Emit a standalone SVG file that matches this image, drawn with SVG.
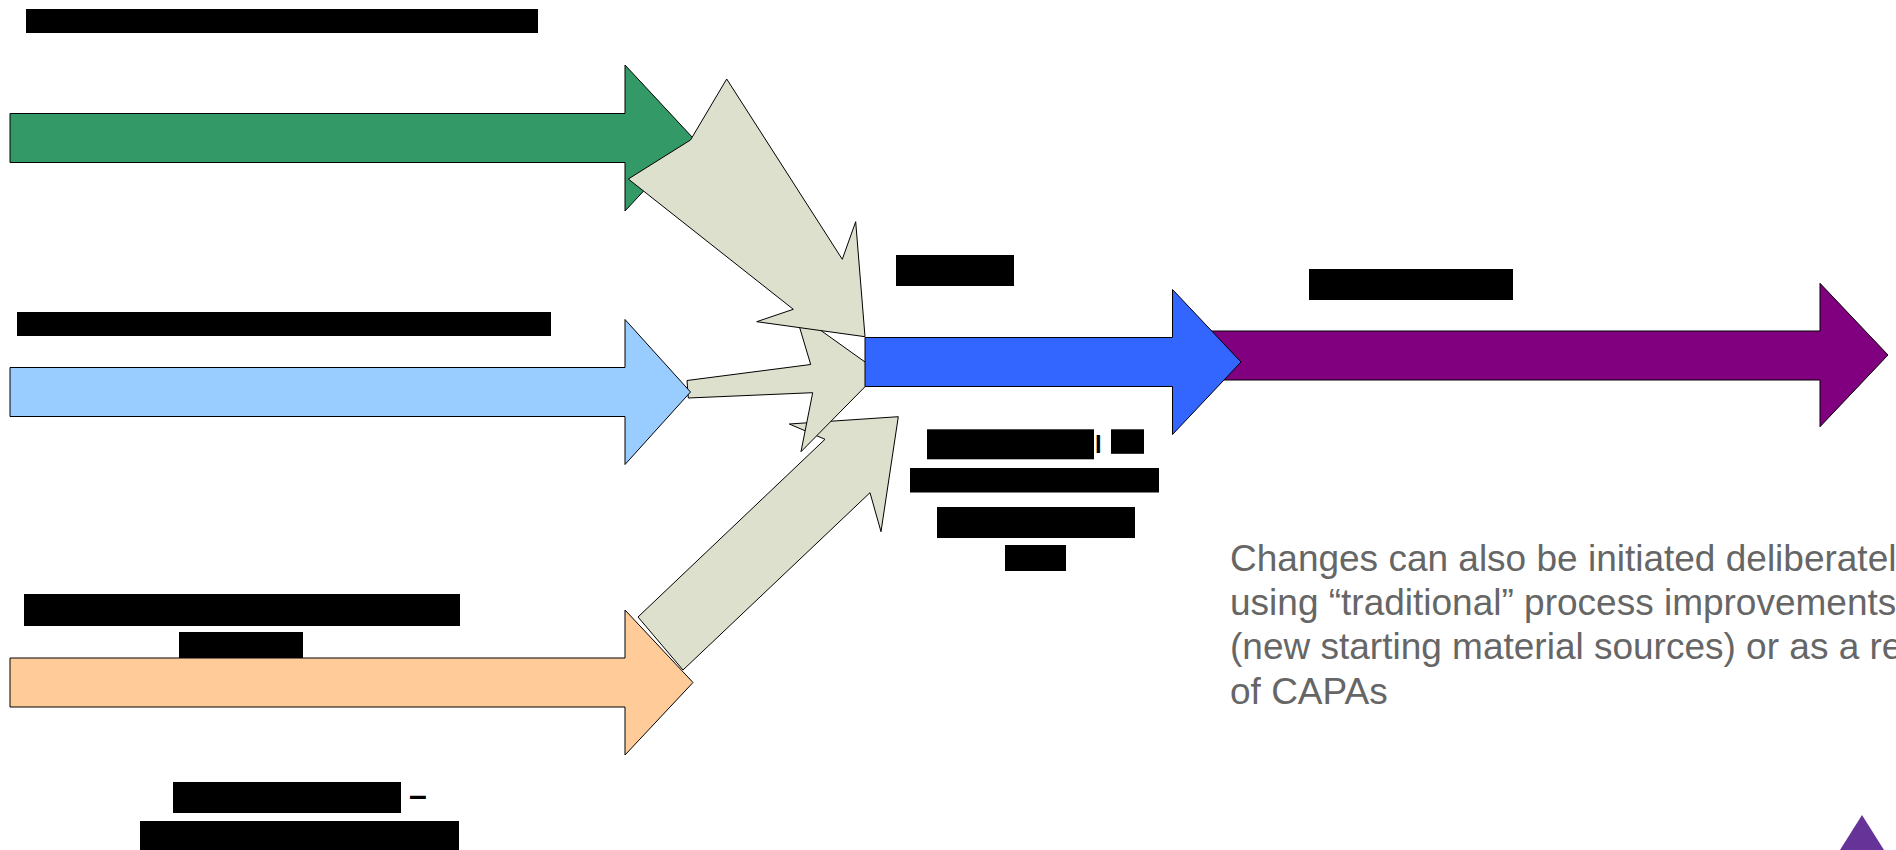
<svg xmlns="http://www.w3.org/2000/svg" width="1896" height="850" viewBox="0 0 1896 850">
  <style>
    .shape { stroke: #000; stroke-width: 1; stroke-linejoin: miter; }
    .green { fill: #339966; }
    .sky { fill: #99ccff; }
    .peach { fill: #ffcc99; }
    .royal { fill: #3366ff; }
    .plum { fill: #800080; }
    .merge { fill: #dde0cc; }
    .redact { fill: #000; }
    .note { font-family: "Liberation Sans", Arial, sans-serif; font-size: 37px; fill: #666666; }
    .ink { font-family: "Liberation Sans", Arial, sans-serif; fill: #000; }
  </style>
  <rect width="1896" height="850" fill="#ffffff"/>

  <!-- input stream 1 -->
  <g id="stream-green">
    <polygon class="shape green" points="10,113.5 625,113.5 625,65 693,138 625,211 625,162.5 10,162.5"/>
  </g>

  <!-- converging arrows -->
  <g id="connectors">
    <polygon class="shape merge" points="638,617 825,439.3 789.3,424 898.3,416.7 881,531.7 870,492.7 683,670"/>
    <polygon class="shape merge" points="687,380.5 810.7,364.5 795,312 879.3,372.2 801,451.7 812.7,392.7 688.3,398"/>
    <polygon class="shape merge" points="726.7,79 842.3,259.3 855.7,221.7 865,336.7 756.7,321.7 793.3,309.3 628.3,179 690.5,140"/>
  </g>

  <!-- input stream 2 -->
  <g id="stream-sky">
    <polygon class="shape sky" points="10,367.5 625,367.5 625,319.5 690.5,392 625,464.5 625,416.5 10,416.5"/>
  </g>

  <!-- input stream 3 -->
  <g id="stream-peach">
    <polygon class="shape peach" points="10,658 625,658 625,610 693,682.5 625,755 625,707 10,707"/>
  </g>

  <!-- outgoing stream -->
  <g id="stream-plum">
    <polygon class="shape plum" points="1200,331 1820,331 1820,283.3 1888,355 1820,426.7 1820,380 1200,380"/>
  </g>

  <!-- combined stream -->
  <g id="stream-royal">
    <polygon class="shape royal" points="865,337.5 1172.5,337.5 1172.5,289.5 1241,362 1172.5,434.5 1172.5,386.5 865,386.5"/>
  </g>

  <!-- label blocks -->
  <g id="labels">
    <rect class="redact" x="26" y="9" width="512" height="24"/>
    <rect class="redact" x="17" y="312" width="534" height="24"/>
    <rect class="redact" x="24" y="594" width="436" height="32"/>
    <rect class="redact" x="179" y="632" width="124" height="26"/>
    <rect class="redact" x="173" y="782" width="228" height="31"/>
    <text class="ink" x="409" y="806" font-size="32" font-weight="bold">–</text>
    <rect class="redact" x="140" y="821" width="319" height="29"/>
    <rect class="redact" x="896" y="255" width="118" height="31"/>
    <rect class="redact" x="1309" y="269" width="204" height="31"/>
    <rect class="redact" x="927" y="429.3" width="167" height="30"/>
    <text class="ink" x="1095" y="453.3" font-size="24" font-weight="bold">l</text>
    <rect class="redact" x="1111" y="429.3" width="33" height="24.5"/>
    <rect class="redact" x="910" y="468" width="249" height="24.5"/>
    <rect class="redact" x="937" y="507" width="198" height="31"/>
    <rect class="redact" x="1005" y="545" width="61" height="26"/>
  </g>

  <!-- note -->
  <g id="note">
    <text class="note" x="1230" y="570.5">Changes can also be initiated deliberately</text>
    <text class="note" x="1230" y="614.9">using “traditional” process improvements</text>
    <text class="note" x="1230" y="659.3">(new starting material sources) or as a result</text>
    <text class="note" x="1230" y="703.7">of CAPAs</text>
  </g>

  <!-- corner mark -->
  <g id="corner-mark">
    <polygon fill="#663399" points="1862,815 1884,850 1840,850"/>
  </g>
</svg>
